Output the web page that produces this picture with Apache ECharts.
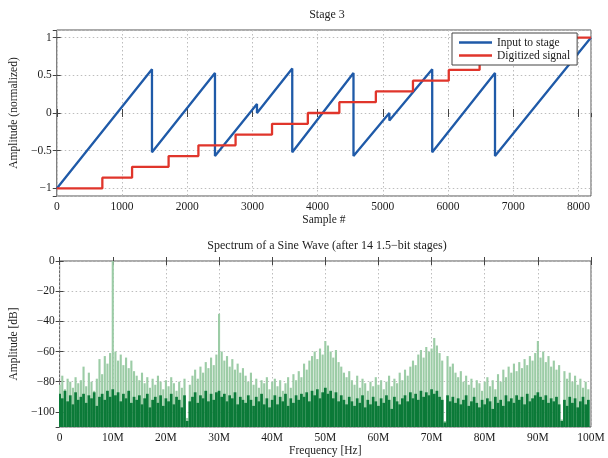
<!DOCTYPE html>
<html>
<head>
<meta charset="utf-8">
<script src="https://cdn.jsdelivr.net/npm/echarts@6/dist/echarts.min.js"></script>
<style>
  html, body { margin: 0; padding: 0; background: #fff; }
  #chart { width: 608px; height: 458px; }
</style>
</head>
<body>
<div id="chart"></div>
<script>
// ---- Stage 3 residue (sawtooth breakpoints: sample index / normalized amplitude)
const stageInputSamples = [0, 1460, 1460, 2426, 2426, 3070, 3070, 3611, 3611, 4550, 4550, 5100, 5100, 5757, 5757, 6720, 6720, 8192];
const stageInputValues  = [-1, 0.58, -0.52, 0.53, -0.57, 0.12, 0.0, 0.59, -0.52, 0.53, -0.57, 0.0, -0.1, 0.58, -0.52, 0.53, -0.57, 1.0];

// ---- Digitized output: sample where each code step happens, and the new level
const digitizedSamples = [0, 699, 1155, 1715, 2172, 2742, 3301, 3850, 4333, 4893, 5462, 6011, 6484, 7000, 7500, 8192];
const digitizedLevels  = [-1, -0.857, -0.714, -0.571, -0.429, -0.286, -0.143, 0, 0.143, 0.286, 0.429, 0.571, 0.714, 0.857, 1, 1];

// ---- Spectrum, one bin every 0.5 MHz from 0 to 99.5 MHz
const spectrumBinMHz = 0.5;
// upper envelope of the bin (light green)
const spectrumPeakDb = [
  -82, -76, -85, -78, -80, -84, -77, -81, -79, -70,
  -83, -74, -80, -86, -78, -65, -75, -63, -68, -61,
    0, -60, -66, -62, -69, -64, -71, -66, -73, -76,
  -79, -74, -81, -77, -84, -78, -82, -76, -80, -85,
  -79, -83, -77, -81, -86, -80, -84, -78, -104, -82,
  -76, -72, -78, -70, -74, -67, -71, -64, -69, -62,
  -35, -60, -66, -63, -70, -65, -72, -68, -74, -71,
  -76, -80, -74, -82, -78, -84, -79, -81, -77, -85,
  -80, -78, -83, -79, -86, -81, -77, -84, -75, -79,
  -73, -77, -68, -72, -66, -63, -60, -65, -58, -62,
  -53, -56, -60, -64, -59, -67, -70, -74, -77, -73,
  -79, -82, -76, -84, -78, -81, -86, -80, -83, -77,
  -82, -79, -85, -80, -76, -83, -78, -81, -74, -79,
  -72, -76, -70, -66, -69, -62, -59, -64, -57, -60,
  -58, -51, -56, -61, -66, -106, -63, -70, -68, -74,
  -77, -73, -80, -76, -82, -78, -84, -79, -81, -86,
  -80, -77, -83, -79, -85, -75, -80, -72, -77, -70,
  -74, -68, -73, -67, -71, -65, -69, -63, -66, -61,
  -53, -64, -60, -67, -63, -70, -66, -72, -69, -105,
  -73, -78, -74, -80, -76, -82, -78, -84, -80, -85
];
// dense noise floor of the bin (dark green)
const spectrumFloorDb = [
  -88, -91, -86, -93, -89, -95, -87, -92, -90, -88,
  -94, -89, -91, -87, -96, -90, -88, -92, -86, -90,
  -85, -89, -87, -93, -88, -91, -86, -94, -90, -92,
  -89, -95, -91, -88, -97, -92, -90, -94, -89, -96,
  -91, -93, -88, -95, -90, -92, -97, -89, -106, -93,
  -90, -87, -94, -89, -91, -86, -93, -88, -92, -87,
  -86, -90, -88, -93, -89, -91, -87, -95, -90, -92,
  -94, -89, -92, -96, -90, -93, -88, -95, -91, -97,
  -92, -89, -95, -90, -93, -88, -96, -91, -94, -89,
  -92, -88, -90, -87, -93, -86, -89, -85, -91, -87,
  -84, -88, -86, -91, -87, -93, -89, -92, -95, -90,
  -93, -96, -91, -94, -89, -97, -92, -95, -90, -93,
  -96, -91, -94, -89, -92, -98, -90, -93, -95, -91,
  -89, -93, -87, -91, -88, -92, -86, -90, -87, -89,
  -85, -88, -86, -90, -92, -107, -89, -93, -90, -94,
  -91, -95, -92, -89, -96, -93, -90, -94, -97, -92,
  -95, -91, -93, -98, -90, -94, -92, -96, -89, -93,
  -91, -94, -89, -92, -90, -95, -88, -93, -91, -89,
  -87, -90, -92, -89, -94, -91, -93, -90, -95, -106,
  -92, -96, -90, -94, -91, -97, -93, -90, -95, -92
];
const freqTickLabels = ['0', '10M', '20M', '30M', '40M', '50M', '60M', '70M', '80M', '90M', '100M'];

const FONT = '"Liberation Serif", "DejaVu Serif", serif';
const TEXT = '#1c1c1c';
const minus = v => String(v).replace('-', '\u2212');

const pairs = (xs, ys) => xs.map((x, i) => [x, ys[i]]);
const binPairs = vals => vals.map((v, i) => [i * spectrumBinMHz, v]);

function binBars(color, widthFrac) {
  return function (params, api) {
    const f = api.value(0);
    const db = api.value(1);
    const base = api.coord([f, -110]);
    const top = api.coord([f, db]);
    const w = api.size([spectrumBinMHz, 0])[0] * widthFrac;
    return {
      type: 'rect',
      shape: { x: top[0] - w / 2, y: top[1], width: w, height: base[1] - top[1] },
      style: { fill: color }
    };
  };
}

const labelStyle = { fontFamily: FONT, fontSize: 11.5, color: TEXT };
const gridLine = { show: true, lineStyle: { color: '#bdbdbd', type: [1.5, 2.5], width: 1 } };
const innerTick = { show: true, inside: true, length: 4, lineStyle: { color: '#444' } };

function mirrorAxis(gridIndex, pos, min, max, extra) {
  return Object.assign({
    gridIndex, type: 'value', position: pos, min, max,
    axisLine: { show: false }, axisLabel: { show: false },
    axisTick: innerTick, splitLine: { show: false }
  }, extra || {});
}

const chart = echarts.init(document.getElementById('chart'), null, { renderer: 'canvas' });

chart.setOption({
  animation: false,
  backgroundColor: '#fff',
  textStyle: { fontFamily: FONT },
  title: [
    { text: 'Stage 3', left: 322, top: 4, textAlign: 'center',
      textStyle: { fontFamily: FONT, fontSize: 12, fontWeight: 'normal', color: TEXT } },
    { text: 'Spectrum of a Sine Wave (after 14 1.5\u2212bit stages)', left: 322, top: 235, textAlign: 'center',
      textStyle: { fontFamily: FONT, fontSize: 12, fontWeight: 'normal', color: TEXT } }
  ],
  legend: {
    z: 20,
    data: [
      { name: 'Input to stage', icon: 'rect' },
      { name: 'Digitized signal', icon: 'rect' }
    ],
    orient: 'vertical',
    left: 452, top: 33,
    padding: [3, 7, 3, 7],
    itemWidth: 33, itemHeight: 2.5, itemGap: 0,
    backgroundColor: '#fff',
    borderColor: '#444', borderWidth: 1, borderRadius: 0,
    textStyle: { fontFamily: FONT, fontSize: 11.5, color: TEXT, lineHeight: 13 },
    selectedMode: false
  },
  grid: [
    { left: 54, right: 17, top: 30, height: 166, show: true, borderColor: '#555', borderWidth: 1 },
    { left: 54, right: 17, top: 261, height: 166.5, show: true, borderColor: '#555', borderWidth: 1 }
  ],
  xAxis: [
    { gridIndex: 0, type: 'value', min: 0, max: 8192, interval: 1000,
      name: 'Sample #', nameLocation: 'middle', nameGap: 18, nameTextStyle: labelStyle,
      axisLine: { show: false }, axisTick: innerTick,
      axisLabel: Object.assign({ margin: 5, showMaxLabel: false, formatter: v => String(v) }, labelStyle),
      splitLine: gridLine },
    { gridIndex: 1, type: 'value', min: 0, max: 100, interval: 10,
      name: 'Frequency [Hz]', nameLocation: 'middle', nameGap: 18, nameTextStyle: labelStyle,
      axisLine: { show: false }, axisTick: innerTick,
      axisLabel: Object.assign({ margin: 5, formatter: v => freqTickLabels[Math.round(v / 10)] }, labelStyle),
      splitLine: gridLine },
    mirrorAxis(0, 'top', 0, 8192, { interval: 1000 }),
    mirrorAxis(1, 'top', 0, 100, { interval: 10 })
  ],
  yAxis: [
    { gridIndex: 0, type: 'value', min: -1.1, max: 1.1,
      name: 'Amplitude (normalized)', nameLocation: 'middle', nameGap: 28, nameTextStyle: labelStyle,
      axisLine: { show: false }, axisTick: innerTick,
      axisLabel: Object.assign({ margin: 5, showMinLabel: false, showMaxLabel: false, formatter: minus }, labelStyle),
      splitLine: gridLine },
    { gridIndex: 1, type: 'value', min: -110, max: 0,
      name: 'Amplitude [dB]', nameLocation: 'middle', nameGap: 31, nameTextStyle: labelStyle,
      axisLine: { show: false }, axisTick: innerTick,
      axisLabel: Object.assign({ margin: 5, showMinLabel: false, formatter: minus }, labelStyle),
      splitLine: gridLine },
    mirrorAxis(0, 'right', -1.1, 1.1),
    mirrorAxis(1, 'right', -110, 0)
  ],
  series: [
    { name: 'Input to stage', type: 'line', xAxisIndex: 0, yAxisIndex: 0,
      data: pairs(stageInputSamples, stageInputValues),
      symbol: 'none', color: '#1f5aa8',
      lineStyle: { width: 2.3, color: '#1f5aa8' }, z: 2 },
    { name: 'Digitized signal', type: 'line', xAxisIndex: 0, yAxisIndex: 0,
      data: pairs(digitizedSamples, digitizedLevels), step: 'end',
      symbol: 'none', color: '#e0352b',
      lineStyle: { width: 2.3, color: '#e0352b' }, z: 3 },
    { name: 'spectrum peaks', type: 'custom', xAxisIndex: 1, yAxisIndex: 1,
      data: binPairs(spectrumPeakDb), encode: { x: 0, y: 1 },
      renderItem: binBars('#9ccca6', 0.8), clip: true, z: 2 },
    { name: 'spectrum floor', type: 'custom', xAxisIndex: 1, yAxisIndex: 1,
      data: binPairs(spectrumFloorDb), encode: { x: 0, y: 1 },
      renderItem: binBars('#0b7a38', 1.02), clip: true, z: 3 }
  ]
});
</script>
</body>
</html>
